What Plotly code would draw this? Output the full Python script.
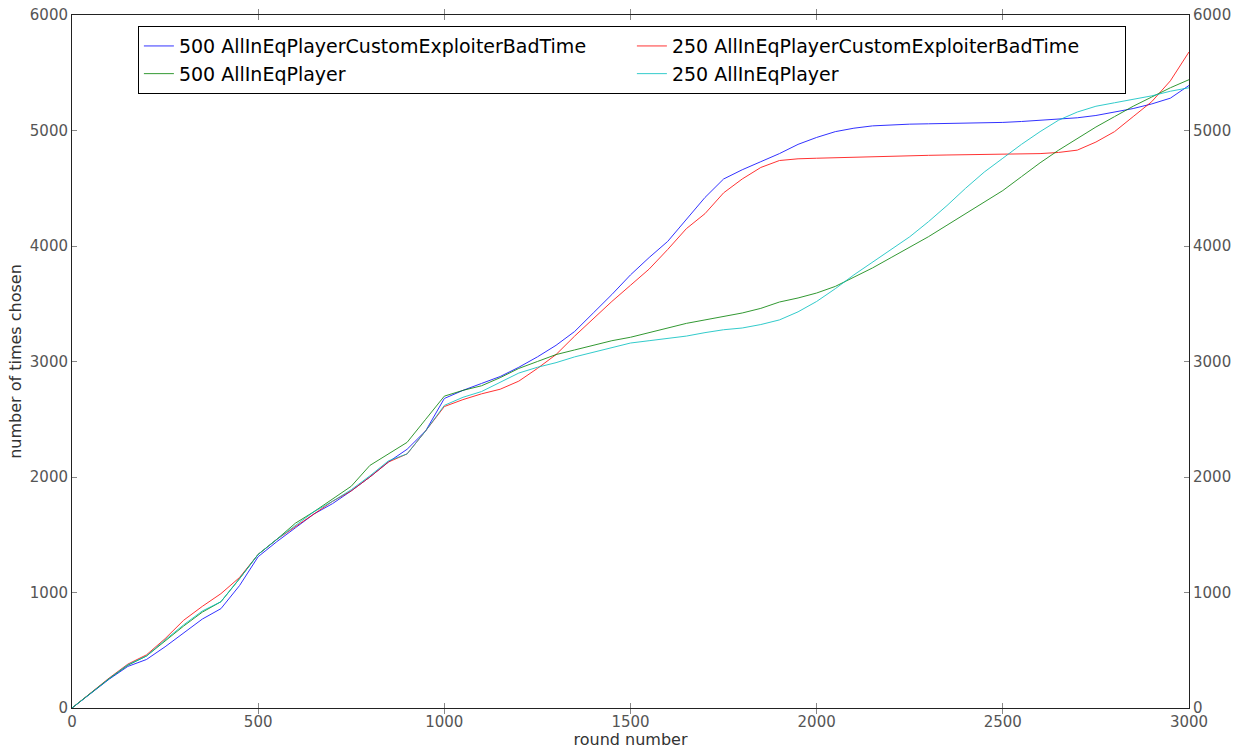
import plotly.graph_objects as go

# Round numbers sampled every 50 rounds
rounds = list(range(0, 3001, 50))

# Cumulative number of times each player was chosen
exploiter_500 = [0, 125, 250, 360, 420, 530, 650, 770, 860, 1060, 1310, 1440, 1560, 1680, 1770, 1880,
                 2000, 2130, 2240, 2400, 2680, 2750, 2810, 2870, 2950, 3040, 3140, 3260, 3420, 3580,
                 3750, 3900, 4040, 4230, 4420, 4580, 4660, 4730, 4800, 4880, 4940, 4990, 5020, 5040,
                 5050, 5055, 5058, 5060, 5063, 5066, 5070, 5078, 5090, 5100, 5110, 5130, 5160, 5190,
                 5230, 5280, 5390]
exploiter_250 = [0, 130, 260, 380, 460, 600, 760, 880, 990, 1130, 1330, 1460, 1570, 1680, 1790, 1880,
                 2000, 2130, 2200, 2400, 2610, 2670, 2720, 2760, 2830, 2940, 3060, 3220, 3370, 3520,
                 3660, 3800, 3970, 4150, 4280, 4460, 4580, 4680, 4740, 4755, 4760, 4765, 4770, 4775,
                 4780, 4782, 4785, 4788, 4790, 4793, 4795, 4798, 4800, 4810, 4830, 4900, 4990, 5120,
                 5250, 5430, 5680]
eq_500 = [0, 130, 255, 370, 450, 580, 710, 830, 920, 1120, 1330, 1460, 1600, 1700, 1810, 1920,
          2100, 2200, 2300, 2500, 2700, 2750, 2790, 2860, 2940, 3000, 3060, 3100, 3140, 3180,
          3210, 3250, 3290, 3330, 3360, 3390, 3420, 3460, 3515, 3550, 3593, 3650, 3730, 3810,
          3900, 3990, 4080, 4180, 4280, 4380, 4480, 4600, 4720, 4830, 4930, 5030, 5120, 5210,
          5290, 5370, 5440]
eq_250 = [0, 130, 255, 375, 450, 590, 720, 840, 920, 1120, 1330, 1460, 1580, 1700, 1790, 1890,
          2010, 2140, 2200, 2400, 2620, 2690, 2740, 2820, 2900, 2950, 2990, 3040, 3080, 3120,
          3160, 3180, 3200, 3220, 3250, 3275, 3290, 3320, 3360, 3430, 3520, 3630, 3750, 3860,
          3970, 4080, 4210, 4350, 4500, 4640, 4760, 4880, 4990, 5090, 5160, 5210, 5240, 5270,
          5300, 5340, 5370]

series = [
    ("500 AllInEqPlayerCustomExploiterBadTime", exploiter_500, "#0000ff"),
    ("250 AllInEqPlayerCustomExploiterBadTime", exploiter_250, "#ff0000"),
    ("500 AllInEqPlayer", eq_500, "#008000"),
    ("250 AllInEqPlayer", eq_250, "#00bfbf"),
]

x_ticks = [0, 500, 1000, 1500, 2000, 2500, 3000]
y_ticks = [0, 1000, 2000, 3000, 4000, 5000, 6000]

FONT = "DejaVu Sans"
TICK_COLOR = "#555555"

fig = go.Figure()
for name, values, color in series:
    fig.add_trace(go.Scatter(x=rounds, y=values, mode="lines", name=name,
                             line=dict(color=color, width=1), opacity=0.8))

# Same data on the right-hand axis so its labels render (hidden from legend)
fig.add_trace(go.Scatter(x=rounds, y=exploiter_500, yaxis="y2", mode="lines",
                         line=dict(width=0), opacity=0, showlegend=False, hoverinfo="skip"))

axis_common = dict(showgrid=False, zeroline=False, showline=True, linecolor="#222222", linewidth=1,
                   ticks="inside", ticklen=5, tickcolor="#888888", automargin=False,
                   tickfont=dict(family=FONT, size=15, color=TICK_COLOR))

fig.update_layout(
    width=1246, height=749,
    margin=dict(l=72, r=57, t=15, b=41),
    paper_bgcolor="white", plot_bgcolor="white",
    font=dict(family=FONT),
    xaxis=dict(range=[0, 3000], tickvals=x_ticks, mirror="allticks",
               title=dict(text="round number", font=dict(family=FONT, size=16, color="#333333"),
                          standoff=4),
               **axis_common),
    yaxis=dict(range=[0, 6000], tickvals=y_ticks, mirror="allticks",
               title=dict(text="number of times chosen", font=dict(family=FONT, size=16, color="#333333"),
                          standoff=4),
               **axis_common),
    yaxis2=dict(range=[0, 6000], tickvals=y_ticks, overlaying="y", side="right", **axis_common),
    legend=dict(orientation="h", x=0.059, y=0.984, xanchor="left", yanchor="top",
                entrywidth=448, entrywidthmode="pixels",
                bordercolor="#000000", borderwidth=1, bgcolor="white",
                font=dict(family=FONT, size=19, color="#000000"),
                tracegroupgap=0, itemwidth=30),
    showlegend=True,
)

fig.write_html("out.html")
